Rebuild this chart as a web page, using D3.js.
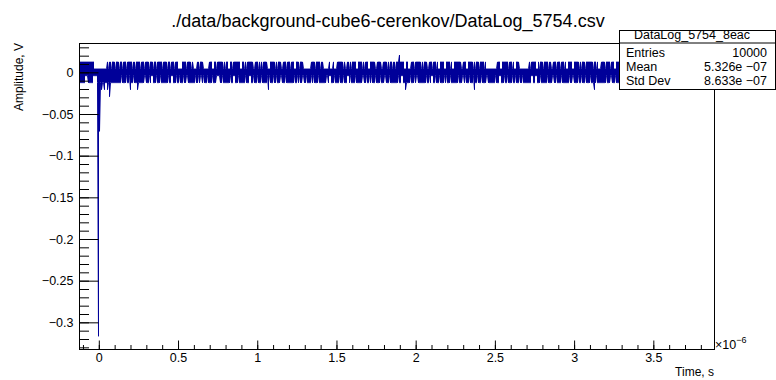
<!DOCTYPE html>
<html>
<head>
<meta charset="utf-8">
<script src="https://cdn.jsdelivr.net/npm/d3@7"></script>
<style>
body { margin: 0; background: #fff; }
text { font-family: "Liberation Sans", Arial, Helvetica, sans-serif; fill: #000; }
</style>
</head>
<body>
<div id="chart"></div>
<script>
var chartTitle = "./data/background-cube6-cerenkov/DataLog_5754.csv";
var xLabel = "Time, s";
var yLabel = "Amplitude, V";
var xTicks = [0, 0.5, 1, 1.5, 2, 2.5, 3, 3.5];          // x 1e-6 s
var yTicks = [0, -0.05, -0.1, -0.15, -0.2, -0.25, -0.3];
var statsName = "DataLog_5754_8eac";
var statsLabels = ["Entries", "Mean", "Std Dev"];
var statsValues = ["10000", "5.326e \u221207", "8.633e \u221207"];

// adc levels (V), the trace sits on half-step values
var levels = { coreHi: 0.0042, coreLo: -0.0042, tickHi: 0.0125, tickLo: -0.0125 };

// envelope of the 10000 samples, one char per screen column:
// '1' = that column reaches the outer level, '0' = only the core band
var topTicks =
	"1111111111" + "1111100000" + "0000000010" + "1101110111" + "0110111011" +
	"1110110111" + "1011101111" + "0111011011" + "1110111101" + "1011101110" +
	"0001111011" + "1101000011" + "0111000000" + "1110011011" + "1111010110" +
	"0110111111" + "1001101011" + "1111001110" + "1010111100" + "0111110101" +
	"1100111011" + "1011100111" + "0111000000" + "0011110111" + "1011000000" +
	"1000100011" + "1111010011" + "0101111001" + "1110101110" + "0111110011" +
	"1100111101" + "0110110111" + "1111100110" + "0011101111" + "1101011100" +
	"1110111010" + "0111100111" + "1010011111" + "1100111001" + "1111010111" +
	"0111101000" + "0000000011" + "1001111110" + "1110100111" + "0000000000" +
	"1011111001" + "0111011110" + "1100111011" + "1011101001" + "1110011111" +
	"0101110111" + "1111011010" + "0011110111" + "1011100111" + "1110110011" +
	"1101110111" + "1101110111" + "1101110111" + "1101110111" + "1101110111" +
	"1101110111" + "1101110111" + "1101110111" + "1101110111";
var bottomTicks =
	"1111110001" + "1111000011" + "1111111111" + "1111111111" + "1101111011" +
	"0111011101" + "1111100111" + "0100111011" + "1011111110" + "1100111011" +
	"0111011001" + "1111110110" + "1001011101" + "1110111000" + "0110111111" +
	"1011001110" + "1111110111" + "0011011101" + "1101111100" + "0111011011" +
	"1001110111" + "1111101101" + "0110011011" + "1101011110" + "1111111001" +
	"0011101111" + "0111011100" + "1011110111" + "1110011011" + "0101110111" +
	"1011100111" + "0111111110" + "1100110111" + "1011101001" + "1111111011" +
	"0100110111" + "0111101011" + "1011111110" + "1110010111" + "0111011101" +
	"1101111001" + "1111110111" + "0011101101" + "1110110111" + "0110111111" +
	"1100110011" + "1011111101" + "1110011011" + "1101111111" + "0110011110" +
	"1101110111" + "1011101011" + "1111111011" + "1001110111" + "0111011101" +
	"1101110111" + "1101110111" + "1101110111" + "1101110111" + "1101110111" +
	"1101110111" + "1101110111" + "1101110111" + "1101110111";

// single excursions outside the band: time (1e-6 s), amplitude (V)
var spikeTimes = [0.0, 0.006, 0.0145, 0.033, 0.052, 0.067, 0.202, 0.2436, 1.068, 1.895, 1.933, 2.374, 3.131];
var spikeValues = [-0.3167, -0.0708, -0.0208, -0.0208, -0.0208, -0.0292, -0.0208, -0.0208, -0.0208, 0.0208, -0.0208, -0.0208, -0.0208];

var W = 776, H = 380;
var frame = { left: 79, right: 714, top: 43, bottom: 349 };
var nCols = frame.right - frame.left;

var svg = d3.select("#chart").append("svg")
	.attr("width", W)
	.attr("height", H);

var x = d3.scaleLinear().domain([-0.125, 3.883]).range([frame.left, frame.right]);
var y = d3.scaleLinear().domain([-0.332, 0.0352]).range([frame.bottom, frame.top]);

// build the column envelope
var colStep = (x.domain()[1] - x.domain()[0]) / nCols;
var cols = d3.range(nCols).map(function(i) {
	return {
		t: x.domain()[0] + (i + 0.5) * colStep,
		hi: topTicks[i] === "1" ? levels.tickHi : levels.coreHi,
		lo: bottomTicks[i] === "1" ? levels.tickLo : levels.coreLo
	};
});
spikeTimes.forEach(function(t, k) {
	var i = Math.floor((t - x.domain()[0]) / colStep);
	var v = spikeValues[k];
	if (v < 0) cols[i].lo = Math.min(cols[i].lo, v);
	else cols[i].hi = Math.max(cols[i].hi, v);
});

var pts = [];
cols.forEach(function(c, i) {
	if (i % 2 === 0) { pts.push([c.t, c.hi]); pts.push([c.t, c.lo]); }
	else { pts.push([c.t, c.lo]); pts.push([c.t, c.hi]); }
});

var line = d3.line()
	.x(function(d) { return x(d[0]); })
	.y(function(d) { return y(d[1]); });

svg.append("path")
	.datum(pts)
	.attr("d", line)
	.attr("fill", "none")
	.attr("stroke", "#000099")
	.attr("stroke-width", 1);

// frame top / right
svg.append("line")
	.attr("x1", frame.left).attr("x2", frame.right)
	.attr("y1", frame.top + 0.5).attr("y2", frame.top + 0.5)
	.attr("stroke", "#000");
svg.append("line")
	.attr("x1", frame.right + 0.5).attr("x2", frame.right + 0.5)
	.attr("y1", frame.top).attr("y2", frame.bottom)
	.attr("stroke", "#000");

// axes
var fmt = d3.format("~g");
var yMinor = d3.range(-33, 4).map(function(k) { return k / 100; });
var xMinor = d3.range(-1, 39).map(function(k) { return k / 10; });

var gy = svg.append("g").attr("transform", "translate(" + (frame.left + 0.5) + ",0)");
gy.call(d3.axisLeft(y).tickValues(yMinor).tickSize(-9.5).tickFormat(""));
gy.append("g").call(d3.axisLeft(y).tickValues(yTicks).tickSize(-19).tickPadding(6).tickFormat(fmt));

var gx = svg.append("g").attr("transform", "translate(0," + (frame.bottom + 0.5) + ")");
gx.call(d3.axisBottom(x).tickValues(xMinor).tickSize(-4.5).tickFormat(""));
gx.append("g").call(d3.axisBottom(x).tickValues(xTicks).tickSize(-9).tickPadding(4).tickFormat(fmt));

svg.selectAll(".domain").remove();
svg.selectAll(".tick line").attr("stroke", "#000");
svg.selectAll(".tick text").style("font-size", "12.5px").style("font-family", "'Liberation Sans', Arial, sans-serif");

svg.append("line")
	.attr("x1", frame.left + 0.5).attr("x2", frame.left + 0.5)
	.attr("y1", frame.top).attr("y2", frame.bottom + 1)
	.attr("stroke", "#000");
svg.append("line")
	.attr("x1", frame.left).attr("x2", frame.right + 1)
	.attr("y1", frame.bottom + 0.5).attr("y2", frame.bottom + 0.5)
	.attr("stroke", "#000");

// axis titles
svg.append("text")
	.attr("x", frame.right)
	.attr("y", 376)
	.attr("text-anchor", "end")
	.style("font-size", "12px")
	.text(xLabel);

svg.append("text")
	.attr("transform", "translate(23," + frame.top + ") rotate(-90)")
	.attr("text-anchor", "end")
	.style("font-size", "12px")
	.text(yLabel);

var exp = svg.append("text")
	.attr("x", frame.right + 1)
	.attr("y", 349)
	.style("font-size", "12.5px");
exp.append("tspan").text("\u00d710");
exp.append("tspan").attr("dy", -6).style("font-size", "9px").text("\u22126");

// title
svg.append("text")
	.attr("x", 388)
	.attr("y", 27)
	.attr("text-anchor", "middle")
	.style("font-size", "18px")
	.text(chartTitle);

// stats box
var box = { left: 619, right: 775, top: 30, mid: 42.5, bottom: 89 };
var gs = svg.append("g");
gs.append("rect")
	.attr("x", box.left + 0.5).attr("y", box.top + 0.5)
	.attr("width", box.right - box.left).attr("height", box.bottom - box.top)
	.attr("fill", "#fff")
	.attr("stroke", "#000");
gs.append("line")
	.attr("x1", box.left).attr("x2", box.right + 1)
	.attr("y1", box.mid + 0.5).attr("y2", box.mid + 0.5)
	.attr("stroke", "#000");
gs.append("text")
	.attr("x", 692).attr("y", 39)
	.attr("text-anchor", "middle")
	.style("font-size", "12.5px")
	.text(statsName);
gs.selectAll("text.lab")
	.data(statsLabels)
	.enter()
	.append("text")
	.attr("class", "lab")
	.attr("x", 626)
	.attr("y", function(d, i) { return 56.5 + i * 14.3; })
	.style("font-size", "12.5px")
	.text(function(d) { return d; });
gs.selectAll("text.val")
	.data(statsValues)
	.enter()
	.append("text")
	.attr("class", "val")
	.attr("x", 767)
	.attr("y", function(d, i) { return 56.5 + i * 14.3; })
	.attr("text-anchor", "end")
	.style("font-size", "12.5px")
	.text(function(d) { return d; });
</script>
</body>
</html>
